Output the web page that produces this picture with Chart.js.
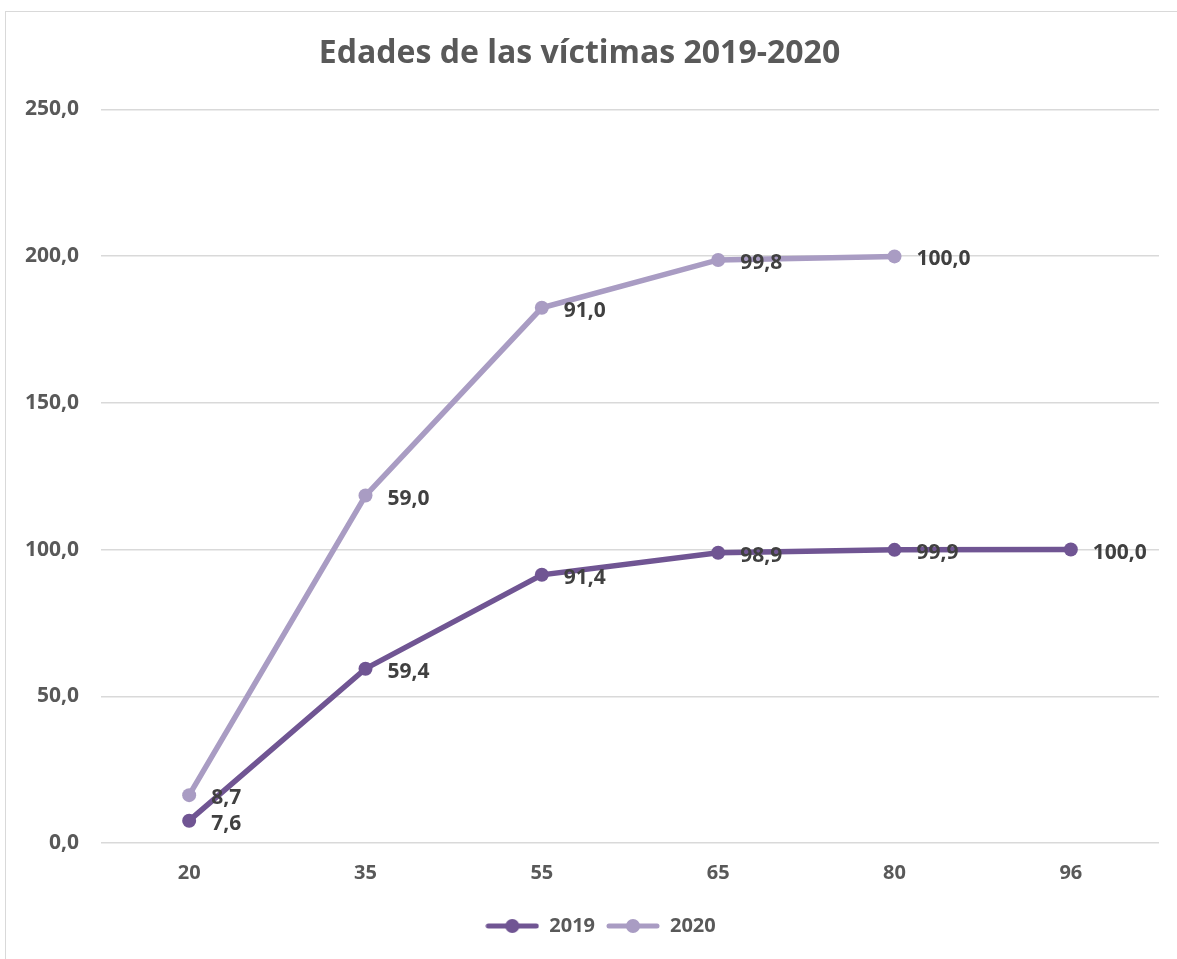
<!DOCTYPE html>
<html>
<head>
<meta charset="utf-8">
<script src="https://cdn.jsdelivr.net/npm/chart.js@4.4.0/dist/chart.umd.min.js"></script>
<style>
html,body{margin:0;padding:0;background:#fff;overflow:hidden;}
#frame{position:absolute;left:5px;top:11px;width:1300px;height:1100px;border:1px solid #d9d9d9;}
#wrap{position:absolute;left:0;top:0;width:1177px;height:959px;}
</style>
</head>
<body>
<div id="frame"></div>
<div id="wrap"><canvas id="c" width="1177" height="959"></canvas></div>
<script>
const categories = ['20','35','55','65','80','96'];
const values2019 = [7.6, 59.4, 91.4, 98.9, 99.9, 100.0];
const values2020 = [8.7, 59.0, 91.0, 99.8, 100.0, null];
const seriesNames = ['2019','2020'];
const chartTitle = 'Edades de las víctimas 2019-2020';

const col2019 = '#705593';
const col2020 = '#a99cc3';
const FONT = '"Open Sans", sans-serif';

function legendIcon(color){
  const cv = document.createElement('canvas');
  cv.width = 54; cv.height = 16;
  const g = cv.getContext('2d');
  g.strokeStyle = color; g.lineWidth = 5; g.lineCap = 'round';
  g.beginPath(); g.moveTo(3,8); g.lineTo(51,8); g.stroke();
  g.fillStyle = color; g.beginPath(); g.arc(27,8,7,0,Math.PI*2); g.fill();
  return cv;
}
const icons = [legendIcon(col2019), legendIcon(col2020)];

const fmt = v => v.toFixed(1).replace('.', ',');

const labelPlugin = {
  id: 'valueLabels',
  afterLayout(chart){
    if (chart.legend) { chart.legend.left += 21; chart.legend.right += 21; }
  },
  afterDatasetsDraw(chart){
    const ctx = chart.ctx;
    ctx.save();
    ctx.font = 'bold 21px ' + FONT;
    ctx.fillStyle = '#404040';
    ctx.textAlign = 'left';
    ctx.textBaseline = 'middle';
    chart.data.datasets.forEach((ds, di) => {
      const meta = chart.getDatasetMeta(di);
      meta.data.forEach((pt, i) => {
        const v = ds.data[i];
        if (v === null || v === undefined) return;
        ctx.fillText(fmt(v), pt.x + 22, pt.y + 3);
      });
    });
    ctx.restore();
  }
};

new Chart(document.getElementById('c'), {
  type: 'line',
  data: {
    labels: categories,
    datasets: [
      { label: seriesNames[0], data: values2019, borderColor: col2019, backgroundColor: col2019,
        borderWidth: 5.5, pointRadius: 7, pointHoverRadius: 7, pointBackgroundColor: col2019,
        pointBorderWidth: 0, tension: 0, pointStyle: 'circle' },
      { label: seriesNames[1], data: values2020, borderColor: col2020, backgroundColor: col2020,
        borderWidth: 5.5, pointRadius: 7, pointHoverRadius: 7, pointBackgroundColor: col2020,
        pointBorderWidth: 0, tension: 0, pointStyle: 'circle' }
    ]
  },
  options: {
    responsive: false,
    animation: false,
    devicePixelRatio: 1,
    layout: { padding: { left: 0, right: 18, top: 0, bottom: 13 } },
    plugins: {
      title: { display: true, text: chartTitle, color: '#595959',
        font: { family: FONT, size: 32, weight: 'bold' }, padding: { top: 35, bottom: 36 } },
      legend: { position: 'bottom',
        labels: { color: '#595959', font: { family: FONT, size: 20, weight: 'bold' },
          usePointStyle: true, pointStyleWidth: 54, padding: 11,
          generateLabels(chart){
            const items = Chart.defaults.plugins.legend.labels.generateLabels(chart);
            items.forEach((it, i) => { it.pointStyle = icons[i]; });
            return items;
          } } },
      tooltip: { enabled: false }
    },
    scales: {
      x: {
        offset: true,
        grid: { display: false, drawTicks: false },
        border: { display: false },
        ticks: { color: '#595959', font: { family: FONT, size: 20, weight: 'bold' }, padding: 18 },
        afterFit(s){ s.height = 62; }
      },
      y: {
        stacked: true,
        min: 0, max: 250,
        grid: { color: '#d9d9d9', lineWidth: 1.5, drawTicks: false },
        border: { display: false },
        ticks: { stepSize: 50, color: '#595959', font: { family: FONT, size: 21, weight: 'bold' },
          padding: 22, callback: v => fmt(v) },
        afterFit(s){ s.width = 101; }
      }
    }
  },
  plugins: [labelPlugin]
});
</script>
</body>
</html>
